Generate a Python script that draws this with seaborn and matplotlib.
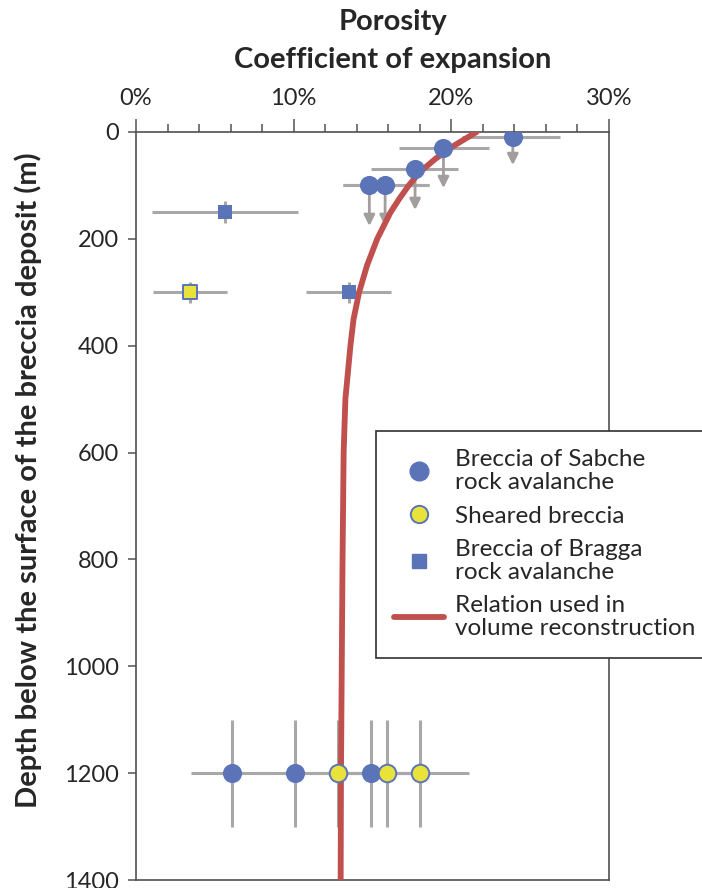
import numpy as np
import matplotlib
matplotlib.use("Agg")
import matplotlib.pyplot as plt
import seaborn as sns
from matplotlib.ticker import MultipleLocator, PercentFormatter
from matplotlib.lines import Line2D

# Sabche breccia (circles), porosity in %, depth in m
sab_por = [23.9, 19.5, 17.7, 14.8, 15.8, 6.1, 10.1, 14.9]
sab_depth = [10, 30, 70, 100, 100, 1200, 1200, 1200]
sab_xlo = [20.7, 16.7, 14.9, 13.1, 13.1, 3.5, 7.5, 12.3]
sab_xhi = [26.9, 22.4, 20.4, 18.6, 18.6, 8.7, 12.7, 17.5]
sab_ylo = [10, 30, 70, 100, 100, 1100, 1100, 1100]
sab_yhi = [10, 30, 70, 100, 100, 1300, 1300, 1300]
# downward arrows on the shallow Sabche samples
arrow_por = [23.9, 19.5, 17.7, 14.8, 15.8]
arrow_from = [10, 30, 70, 100, 100]
arrow_to = [62, 105, 146, 176, 176]

# Sheared breccia (yellow circles at depth)
she_por = [12.8, 15.9, 18.0]
she_depth = [1200, 1200, 1200]
she_xlo = [10.2, 13.3, 15.4]
she_xhi = [15.4, 18.5, 21.1]
she_ylo = [1100, 1100, 1100]
she_yhi = [1300, 1300, 1300]

# Bragga breccia (squares); the sheared one is yellow
bra_por = [5.65, 13.5]
bra_depth = [150, 300]
bra_xlo = [1.0, 10.8]
bra_xhi = [10.3, 16.2]
bra_ylo = [130, 280]
bra_yhi = [170, 320]
brs_por = [3.4]
brs_depth = [300]
brs_xlo = [1.05]
brs_xhi = [5.8]
brs_ylo = [280]
brs_yhi = [320]

# relation used in the volume reconstruction
curve_depth = [0, 25, 50, 75, 100, 125, 150, 200, 250, 300, 350, 400,
               500, 600, 800, 1000, 1200, 1400]
curve_por = [21.6, 20.2, 19.0, 18.0, 17.3, 16.7, 16.15, 15.3, 14.65, 14.15,
             13.8, 13.6, 13.28, 13.17, 13.1, 13.05, 13.0, 12.98]

blue = "#5B74B8"
yellow = "#E8E23A"
red = "#C0504D"
grey = "#A8A8A8"

sns.set_theme(style="white")
plt.rcParams["font.family"] = ["Lato", "DejaVu Sans"]

fig = plt.figure(figsize=(7.02, 8.88), dpi=100)
ax = fig.add_axes([136 / 702, 1 - 880 / 888, (609 - 136) / 702, (880 - 132) / 888])


def bars(por, depth, xlo, xhi, ylo, yhi):
    por = np.array(por)
    depth = np.array(depth)
    xerr = [por - np.array(xlo), np.array(xhi) - por]
    yerr = [depth - np.array(ylo), np.array(yhi) - depth]
    ax.errorbar(por, depth, xerr=xerr, yerr=yerr, fmt="none",
                ecolor=grey, elinewidth=2.2, capsize=0, zorder=2)


bars(sab_por, sab_depth, sab_xlo, sab_xhi, sab_ylo, sab_yhi)
bars(she_por, she_depth, she_xlo, she_xhi, she_ylo, she_yhi)
bars(bra_por, bra_depth, bra_xlo, bra_xhi, bra_ylo, bra_yhi)
bars(brs_por, brs_depth, brs_xlo, brs_xhi, brs_ylo, brs_yhi)

for x, y0, y1 in zip(arrow_por, arrow_from, arrow_to):
    ax.annotate("", xy=(x, y1), xytext=(x, y0),
                arrowprops=dict(arrowstyle="-|>", color="#A39E9E", lw=2,
                                mutation_scale=16, shrinkA=0, shrinkB=0),
                zorder=2)

sns.lineplot(x=curve_por, y=curve_depth, orient="y", sort=True, color=red,
             linewidth=4.2, ax=ax, zorder=3)

sns.scatterplot(x=sab_por, y=sab_depth, marker="o", s=190, color=blue,
                edgecolor=blue, linewidth=0, ax=ax, zorder=4)
sns.scatterplot(x=she_por, y=she_depth, marker="o", s=160, color=yellow,
                edgecolor=blue, linewidth=1.4, ax=ax, zorder=4)
sns.scatterplot(x=bra_por, y=bra_depth, marker="s", s=115, color=blue,
                edgecolor=blue, linewidth=0, ax=ax, zorder=4)
sns.scatterplot(x=brs_por, y=brs_depth, marker="s", s=100, color=yellow,
                edgecolor=blue, linewidth=1.4, ax=ax, zorder=4)

ax.set_xlim(0, 30)
ax.set_ylim(1400, 0)
ax.xaxis.set_major_locator(MultipleLocator(10))
ax.xaxis.set_minor_locator(MultipleLocator(2))
ax.xaxis.set_major_formatter(PercentFormatter(decimals=0))
ax.yaxis.set_major_locator(MultipleLocator(200))
ax.xaxis.tick_top()
ax.tick_params(axis="x", which="major", direction="out", length=9.5, width=1.2,
               color="#606060", labelsize=17, pad=7, top=True, bottom=False)
ax.tick_params(axis="x", which="minor", direction="out", length=5.5, width=1.2,
               color="#606060", top=True, bottom=False)
ax.tick_params(axis="y", direction="out", length=6, width=1.2, color="#606060",
               labelsize=17, pad=6, left=True)
for s in ax.spines.values():
    s.set_color("#505050")
    s.set_linewidth(1.2)
ax.set_xlabel("")
ax.set_ylabel("")

fig.text(393 / 702, 1 - 22 / 888, "Porosity", fontsize=21, fontweight="bold",
         ha="center", va="center")
fig.text(393 / 702, 1 - 60 / 888, "Coefficient of expansion", fontsize=21,
         fontweight="bold", ha="center", va="center")
fig.text(28 / 702, 1 - 480 / 888,
         "Depth below the surface of the breccia deposit (m)",
         fontsize=21, fontweight="bold", rotation=90, ha="center", va="center")

handles = [
    Line2D([], [], ls="none", marker="o", ms=13.5, color=blue, mec=blue),
    Line2D([], [], ls="none", marker="o", ms=12.5, color=yellow, mec=blue, mew=1.4),
    Line2D([], [], ls="none", marker="s", ms=10.5, color=blue, mec=blue),
    Line2D([], [], color=red, lw=4.2),
]
labels = ["Breccia of Sabche\nrock avalanche", "Sheared breccia",
          "Breccia of Bragga\nrock avalanche",
          "Relation used in\nvolume reconstruction"]
leg = fig.legend(handles, labels, loc="upper left",
                 bbox_to_anchor=(376 / 702, 1 - 431 / 888), fontsize=17.5,
                 frameon=True, fancybox=False, edgecolor="#303030",
                 framealpha=1, handlelength=2.05, labelspacing=0.5,
                 handletextpad=0.45, borderpad=0.75, borderaxespad=0)
leg.get_frame().set_linewidth(1.2)
for t in leg.get_texts():
    t.set_linespacing(1.13)

fig.savefig("out.png", dpi=100)
